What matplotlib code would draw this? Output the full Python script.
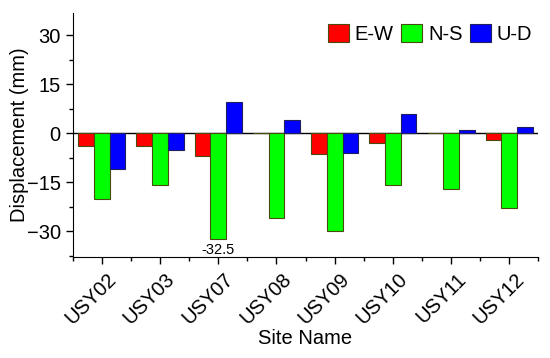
import matplotlib.pyplot as plt
import matplotlib.transforms as mtransforms
import numpy as np
from matplotlib.ticker import MultipleLocator

plt.rcParams['font.family'] = ['Liberation Sans', 'DejaVu Sans']

sites = ['USY02', 'USY03', 'USY07', 'USY08', 'USY09', 'USY10', 'USY11', 'USY12']
ew = [-4, -4, -7, 0, -6.5, -3, 0, -2]
ns = [-20, -16, -32.5, -26, -30, -16, -17, -23]
ud = [-11, -5, 9.5, 4, -6, 6, 1, 2]

x = np.arange(len(sites))
w = 0.27
fs = 14.5

fig = plt.figure(figsize=(5.5, 3.58), dpi=100)
ax = fig.add_axes([0.132, 0.283, 0.847, 0.68])

edge = '#4a4a10'
ax.bar(x - w, ew, w, color='#ff0000', edgecolor=edge, linewidth=0.8, label='E-W')
ax.bar(x, ns, w, color='#00ff00', edgecolor=edge, linewidth=0.8, label='N-S')
ax.bar(x + w, ud, w, color='#0000ff', edgecolor='#202060', linewidth=0.8, label='U-D')
ax.axhline(0, color='black', linewidth=1.0, zorder=0)

ax.text(x[2], min(ns) - 1.0, '-32.5', ha='center', va='top', fontsize=10.5)

ax.set_xlim(-0.5, 7.5)
ax.set_ylim(-37.8, 36.7)
ax.yaxis.set_major_locator(MultipleLocator(15))
ax.yaxis.set_minor_locator(MultipleLocator(7.5))
ax.set_xticks(x)
ax.set_xticks(np.arange(-0.5, 8, 1), minor=True)
ax.tick_params(axis='y', labelsize=fs, width=1, length=5, direction='out')
ax.tick_params(axis='x', width=1, length=5, direction='out', pad=9.4)
ax.tick_params(which='minor', length=3, width=1)
ax.set_xticklabels(sites, rotation=45, ha='right', va='center',
                   rotation_mode='anchor', fontsize=fs)
# nudge rotated labels to the right like the original
shift = mtransforms.ScaledTranslation(0.12, 0, fig.dpi_scale_trans)
for lab in ax.get_xticklabels():
    lab.set_transform(lab.get_transform() + shift)

ax.spines['top'].set_visible(False)
ax.spines['right'].set_visible(False)
ax.set_ylabel('Displacement (mm)', fontsize=fs)
ax.set_xlabel('Site Name', fontsize=fs)
ax.yaxis.set_label_coords(-0.093, 0.5)
ax.xaxis.set_label_coords(0.5, -0.297)

ax.legend(loc='upper right', ncol=3, frameon=False, fontsize=fs,
          handlelength=1.05, handleheight=1.05, handletextpad=0.3,
          columnspacing=0.35, borderaxespad=0.0, bbox_to_anchor=(1.004, 0.99))

fig.savefig('out.png', dpi=100)
